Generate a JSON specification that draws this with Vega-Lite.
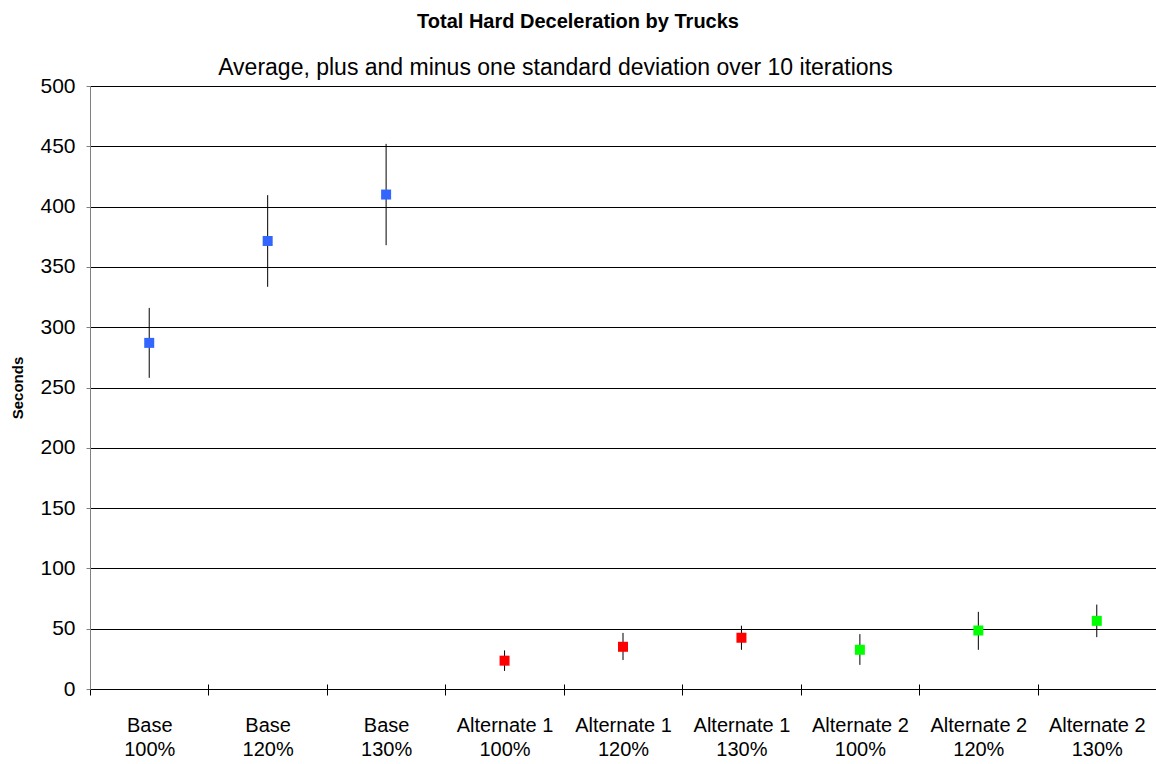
{
  "$schema": "https://vega.github.io/schema/vega-lite/v6.json",
  "width": 1066,
  "height": 603,
  "autosize": {"type": "none"},
  "padding": {"left": 90, "top": 86, "right": 0, "bottom": 75},
  "background": "white",
  "config": {"view": {"stroke": null}, "font": "Liberation Sans"},
  "title": {
    "text": "Total Hard Deceleration by Trucks",
    "anchor": "middle",
    "frame": "group",
    "fontSize": 20,
    "fontWeight": "bold",
    "color": "black",
    "font": "Liberation Sans",
    "dx": -45,
    "offset": 24
  },
  "data": {
    "values": [
      {"label": "Base 100%", "series": "Base", "mean": 287, "lower": 258, "upper": 316},
      {"label": "Base 120%", "series": "Base", "mean": 371.5, "lower": 333.5, "upper": 409.5},
      {"label": "Base 130%", "series": "Base", "mean": 410, "lower": 368, "upper": 452},
      {"label": "Alternate 1 100%", "series": "Alternate 1", "mean": 23.5, "lower": 15, "upper": 32},
      {"label": "Alternate 1 120%", "series": "Alternate 1", "mean": 35, "lower": 24, "upper": 46.5},
      {"label": "Alternate 1 130%", "series": "Alternate 1", "mean": 42.5, "lower": 32.5, "upper": 52.5},
      {"label": "Alternate 2 100%", "series": "Alternate 2", "mean": 32.5, "lower": 20, "upper": 45.5},
      {"label": "Alternate 2 120%", "series": "Alternate 2", "mean": 48.5, "lower": 32.5, "upper": 64},
      {"label": "Alternate 2 130%", "series": "Alternate 2", "mean": 56.5, "lower": 43, "upper": 70}
    ]
  },
  "resolve": {"axis": {"x": "independent"}},
  "layer": [
    {
      "mark": {"type": "rule", "color": "black", "strokeWidth": 1},
      "encoding": {
        "x": {
          "field": "label",
          "type": "nominal",
          "sort": null,
          "scale": {"type": "band", "paddingInner": 0, "paddingOuter": 0},
          "axis": {
            "orient": "top",
            "title": "Average, plus and minus one standard deviation over 10 iterations",
            "titleFont": "Liberation Sans",
            "titleFontSize": 23,
            "titleFontWeight": "normal",
            "titleColor": "black",
            "titleX": 465,
            "titleY": -12,
            "titleBaseline": "alphabetic",
            "labels": false,
            "ticks": false,
            "domain": false
          }
        },
        "y": {
          "field": "lower",
          "type": "quantitative",
          "scale": {"domain": [0, 500]},
          "axis": {
            "title": "Seconds",
            "titleFontSize": 15,
            "titleFontWeight": "bold",
            "titleColor": "black",
            "titlePadding": 14,
            "values": [0, 50, 100, 150, 200, 250, 300, 350, 400, 450, 500],
            "labelFontSize": 21,
            "labelColor": "black",
            "labelPadding": 11,
            "tickSize": 4,
            "tickColor": "#808080",
            "domainColor": "#808080",
            "grid": true,
            "gridColor": "black",
            "gridOpacity": 1
          }
        },
        "y2": {"field": "upper"}
      }
    },
    {
      "mark": {"type": "point", "shape": "square", "filled": true, "size": 100, "opacity": 1},
      "encoding": {
        "x": {
          "field": "label",
          "type": "nominal",
          "sort": null,
          "scale": {"type": "band", "paddingInner": 0, "paddingOuter": 0},
          "axis": {
            "orient": "bottom",
            "title": null,
            "offset": -5,
            "domain": false,
            "tickSize": 11,
            "tickColor": "black",
            "tickBand": "extent",
            "labelAngle": 0,
            "labelFontSize": 20,
            "labelColor": "black",
            "labelPadding": 20,
            "labelLineHeight": 24,
            "labelExpr": "[substring(datum.label, 0, lastindexof(datum.label, ' ')), substring(datum.label, lastindexof(datum.label, ' ') + 1)]"
          }
        },
        "y": {"field": "mean", "type": "quantitative"},
        "color": {
          "field": "series",
          "type": "nominal",
          "scale": {"domain": ["Base", "Alternate 1", "Alternate 2"], "range": ["#3366FF", "#FF0000", "#00FF00"]},
          "legend": null
        }
      }
    }
  ]
}
